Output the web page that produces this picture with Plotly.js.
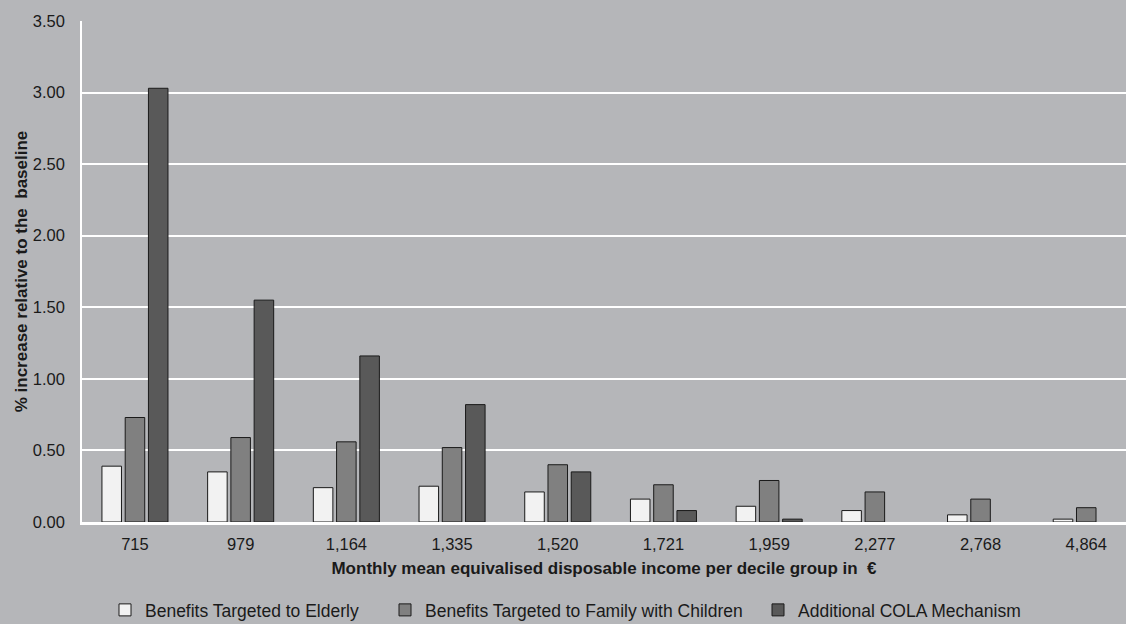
<!DOCTYPE html>
<html>
<head>
<meta charset="utf-8">
<script src="https://cdn.plot.ly/plotly-3.0.1.min.js"></script>
<style>html,body{margin:0;padding:0;background:#b5b6b9;}#chart{width:1126px;height:624px;}</style>
</head>
<body>
<div id="chart"></div>
<script>
const categories = ["715", "979", "1,164", "1,335", "1,520", "1,721", "1,959", "2,277", "2,768", "4,864"];
const elderly = [0.39, 0.35, 0.24, 0.25, 0.21, 0.16, 0.11, 0.08, 0.05, 0.02];
const family = [0.73, 0.59, 0.56, 0.52, 0.40, 0.26, 0.29, 0.21, 0.16, 0.10];
const cola = [3.03, 1.55, 1.16, 0.82, 0.35, 0.08, 0.02, 0, 0, 0];
const seriesNames = ["Benefits Targeted to Elderly", "Benefits Targeted to Family with Children", "Additional COLA Mechanism"];
const yTickVals = [0, 0.5, 1, 1.5, 2, 2.5, 3, 3.5];
const yTickText = ["0.00", "0.50", "1.00", "1.50", "2.00", "2.50", "3.00", "3.50"];

const font = "Liberation Sans, Arial, sans-serif";
const bg = "#b5b6b9";
const colors = ["#f2f2f2", "#808080", "#595959"];
const legends = ["legend", "legend2", "legend3"];
const data = [elderly, family, cola].map((vals, i) => ({
  type: "bar",
  x: categories,
  y: vals.map(v => (v === 0 ? null : v)),
  name: seriesNames[i],
  legend: legends[i],
  marker: {color: colors[i], line: {color: "#1a1a1a", width: 1}},
  hoverinfo: "x+y+name"
}));

const legendBase = (xpx) => ({
  xref: "container", yref: "container",
  x: xpx / 1126, y: (624 - 610) / 624,
  xanchor: "left", yanchor: "middle",
  orientation: "h",
  bgcolor: "rgba(0,0,0,0)",
  font: {family: font, size: 17.5, color: "#1a1a1a"},
  itemwidth: 30
});

const layout = {
  width: 1126, height: 624,
  paper_bgcolor: bg, plot_bgcolor: bg,
  margin: {l: 82, r: 0, t: 21, b: 102},
  barmode: "group",
  bargap: 0.34,
  bargroupgap: 0.16,
  showlegend: true,
  legend: legendBase(105),
  legend2: legendBase(385),
  legend3: legendBase(758),
  xaxis: {
    type: "category",
    range: [-0.501, 9.376],
    showgrid: false,
    showline: true, linecolor: "#ffffff", linewidth: 2.5,
    ticks: "", ticklabelstandoff: 5,
    tickfont: {family: font, size: 16.5, color: "#1a1a1a"},
    title: {text: "Monthly mean equivalised disposable income per decile group in  €", font: {family: font, size: 17, color: "#1a1a1a", weight: "bold"}, standoff: 11},
    zeroline: false
  },
  yaxis: {
    range: [0, 3.5],
    tickvals: yTickVals, ticktext: yTickText,
    showgrid: true, gridcolor: "#ffffff", gridwidth: 1.5,
    showline: true, linecolor: "#ffffff", linewidth: 1.5,
    ticks: "", ticklabelstandoff: 12,
    tickfont: {family: font, size: 16.5, color: "#1a1a1a"},
    title: {text: "% increase relative to the  baseline", font: {family: font, size: 17, color: "#1a1a1a", weight: "bold"}, standoff: 1},
    zeroline: false
  }
};

Plotly.newPlot("chart", data, layout, {displayModeBar: false});
</script>
</body>
</html>
